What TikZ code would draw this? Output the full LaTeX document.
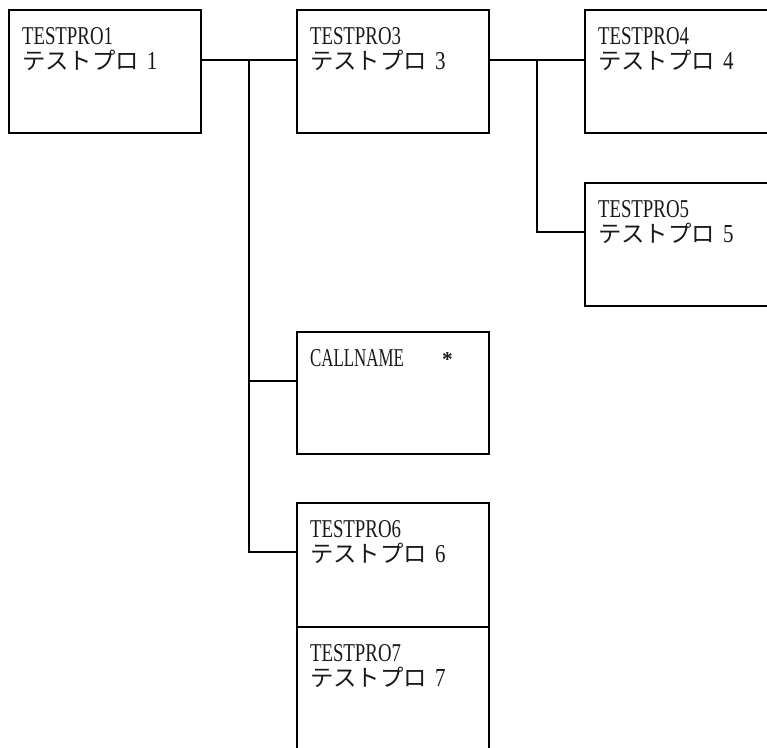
\documentclass[tikz,border=0pt]{standalone}
\usepackage{fontspec}
\usepackage{graphicx}
\setmainfont{Liberation Serif}
\newfontfamily\cjk{Noto Sans CJK JP}
\usetikzlibrary{calc}
\begin{document}
\begin{tikzpicture}[x=1pt,y=-1pt,
  boxnode/.style={draw, line width=1.1pt, rectangle, anchor=north west, inner sep=0pt, outer sep=0pt, minimum width=192pt, minimum height=123pt},
  lab/.style={anchor=base west, inner sep=0pt, outer sep=0pt, text=black!90, font=\fontsize{25}{25}\selectfont},
  wire/.style={line width=1.1pt}]
\useasboundingbox (0,0) rectangle (767,747);
\clip (0,0) rectangle (767,747);
\newcommand\lat[2]{\resizebox{#2}{17pt}{#1}}
\newcommand\jline[1]{\resizebox{117pt}{!}{\cjk テストプロ}\kern8pt\lat{#1}{10.5pt}}
% boxes
\node[boxnode] (b1) at (9,10) {};
\node[boxnode] (b3) at (297,10) {};
\node[boxnode] (b4) at (585,10) {};
\node[boxnode] (b5) at (585,183) {};
\node[boxnode, minimum height=122pt] (cn) at (297,332) {};
\node[boxnode, minimum height=124pt] (b6) at (297,503) {};
\node[boxnode] (b7) at (297,627) {};
% labels
\node[lab] (t1a) at ($(b1.north west)+(13,34)$) {\lat{TESTPRO1}{91pt}};
\node[lab] (t1b) at ($(b1.north west)+(13,59.5)$) {\jline{1}};
\node[lab] (t3a) at ($(b3.north west)+(13,34)$) {\lat{TESTPRO3}{91pt}};
\node[lab] (t3b) at ($(b3.north west)+(13,59.5)$) {\jline{3}};
\node[lab] (t4a) at ($(b4.north west)+(13,34)$) {\lat{TESTPRO4}{91pt}};
\node[lab] (t4b) at ($(b4.north west)+(13,59.5)$) {\jline{4}};
\node[lab] (t5a) at ($(b5.north west)+(13,34)$) {\lat{TESTPRO5}{91pt}};
\node[lab] (t5b) at ($(b5.north west)+(13,59.5)$) {\jline{5}};
\node[lab] (tca) at ($(cn.north west)+(13,34)$) {\lat{CALLNAME}{94pt}\kern38pt\resizebox{!}{14pt}{\textbf{*}}};
\node[lab] (t6a) at ($(b6.north west)+(13,34)$) {\lat{TESTPRO6}{91pt}};
\node[lab] (t6b) at ($(b6.north west)+(13,59.5)$) {\jline{6}};
\node[lab] (t7a) at ($(b7.north west)+(13,34)$) {\lat{TESTPRO7}{91pt}};
\node[lab] (t7b) at ($(b7.north west)+(13,59.5)$) {\jline{7}};
% ports
\coordinate (p1e) at ($(b1.north east)+(0,50)$);
\coordinate (p3w) at ($(b3.north west)+(0,50)$);
\coordinate (p3e) at ($(b3.north east)+(0,50)$);
\coordinate (p4w) at ($(b4.north west)+(0,50)$);
\coordinate (p5w) at ($(b5.north west)+(0,49)$);
\coordinate (pcw) at ($(cn.north west)+(0,49)$);
\coordinate (p6w) at ($(b6.north west)+(0,49)$);
\coordinate (j1) at ($(p1e)!0.5!(p3w)$);
\coordinate (j2) at ($(p3e)!0.5!(p4w)$);
% connectors
\draw[wire] (p1e) -- (p3w);
\draw[wire] (j1) |- (p6w);
\draw[wire] (j1 |- pcw) -- (pcw);
\draw[wire] (p3e) -- (p4w);
\draw[wire] (j2) |- (p5w);
\end{tikzpicture}
\end{document}
